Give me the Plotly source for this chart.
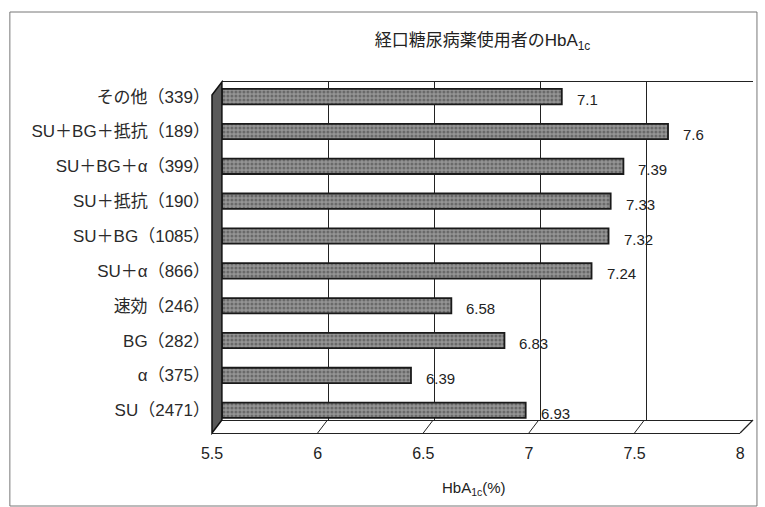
import plotly.graph_objects as go

categories = ["SU（2471）", "α（375）", "BG（282）", "速効（246）", "SU＋α（866）",
              "SU＋BG（1085）", "SU＋抵抗（190）", "SU＋BG＋α（399）", "SU＋BG＋抵抗（189）", "その他（339）"]
values = [6.93, 6.39, 6.83, 6.58, 7.24, 7.32, 7.33, 7.39, 7.6, 7.1]
value_labels = ["6.93", "6.39", "6.83", "6.58", "7.24", "7.32", "7.33", "7.39", "7.6", "7.1"]
x_ticks = [5.5, 6, 6.5, 7, 7.5, 8]
x_tick_labels = ["5.5", "6", "6.5", "7", "7.5", "8"]
x_min, x_max = 5.5, 8

W, H = 765, 507
L, R, T, B = 212, 758, 82, 433  # plot-area pixel box (front-left to back-right)
PW, PH = R - L, B - T
DEPTH = 10   # pixel depth of the 3D offset
DEPTH_Y = 13

def px(p):
    return (p - L) / PW

def py(p):
    return (B - p) / PH

FONT = "Liberation Sans, Noto Sans CJK JP, sans-serif"

fig = go.Figure()
fig.add_trace(go.Bar(
    y=categories, x=[v - x_min for v in values], base=x_min, orientation="h",
    xaxis="x", yaxis="y", width=0.44,
    marker=dict(color="#808080", line=dict(color="#1a1a1a", width=1.8),
                pattern=dict(shape=".", fgcolor="#3c3c3c", bgcolor="#959595", size=4, solidity=0.45)),
    hoverinfo="skip", showlegend=False,
))
# invisible trace for the front (floor) axis
fig.add_trace(go.Scatter(x=[x_min, x_max], y=[categories[0], categories[0]], mode="markers",
                         marker=dict(opacity=0), xaxis="x2", yaxis="y", showlegend=False, hoverinfo="skip"))

for c, v, t in zip(categories, values, value_labels):
    fig.add_annotation(x=v, y=c, xref="x", yref="y", text=t, showarrow=False,
                       xanchor="left", xshift=13, yshift=-3,
                       font=dict(family=FONT, size=15, color="#222"))

shapes = []
# left wall
shapes.append(dict(type="path", xref="paper", yref="paper",
                   path=f"M {px(L)},{py(T+DEPTH_Y)} L {px(L+DEPTH)},{py(T)} L {px(L+DEPTH)},{py(B-DEPTH_Y)} L {px(L)},{py(B)} Z",
                   fillcolor="#5a5a5a", line=dict(color="#111", width=1.5), layer="above"))
# floor right side
shapes.append(dict(type="line", xref="paper", yref="paper", x0=px(R - DEPTH - 3), y0=py(B), x1=px(R), y1=py(B - DEPTH_Y),
                   line=dict(color="#222", width=1.2)))
# tick diagonals on the floor
front_w = PW - DEPTH - 3
dv = DEPTH / front_w * (x_max - x_min)
for v in x_ticks[1:-1]:
    shapes.append(dict(type="line", xref="x2", yref="paper", x0=v + dv, y0=py(B - DEPTH_Y), x1=v, y1=py(B),
                       line=dict(color="#222", width=1)))
# outer frame
shapes.append(dict(type="rect", xref="paper", yref="paper", x0=px(8), y0=py(12), x1=px(762), y1=py(506),
                   line=dict(color="#777", width=1)))

fig.update_layout(
    width=W, height=H,
    margin=dict(l=L, r=W - R, t=T, b=H - B),
    paper_bgcolor="white", plot_bgcolor="rgba(0,0,0,0)",
    font=dict(family=FONT, color="#222"),
    shapes=shapes,
    xaxis=dict(domain=[DEPTH / PW, 1], range=[x_min, x_max], anchor="y",
               tickvals=x_ticks, showticklabels=False, ticks="",
               showgrid=True, gridcolor="#222", gridwidth=1.3,
               showline=True, linecolor="#222", linewidth=1.3, mirror=True, zeroline=False),
    xaxis2=dict(domain=[0, (PW - DEPTH - 3) / PW], range=[x_min, x_max], anchor="free", position=0,
                tickvals=x_ticks, ticktext=x_tick_labels, ticks="", showgrid=False,
                showline=True, linecolor="#222", linewidth=1.3, zeroline=False,
                ticklabelstandoff=6,
                tickfont=dict(family=FONT, size=16, color="#222")),
    yaxis=dict(domain=[DEPTH_Y / PH, 1], anchor="free", position=0,
               categoryorder="array", categoryarray=categories,
               range=[-0.28, 9.42],
               showgrid=False, ticks="", showline=False, zeroline=False,
               ticklabelstandoff=2,
               tickfont=dict(family=FONT, size=17, color="#2a2a2a")),
    title=dict(text="経口糖尿病薬使用者のHbA<sub>1c</sub>", x=px(485), xref="paper", xanchor="center",
               y=1 - 40 / H, yref="container", yanchor="middle",
               font=dict(family=FONT, size=17, color="#222")),
)
fig.add_annotation(text="HbA<sub>1c</sub>(%)", xref="paper", yref="paper", x=px(476), y=py(488),
                   xanchor="center", yanchor="middle",
                   showarrow=False, font=dict(family=FONT, size=15, color="#222"))

fig.write_html("out.html", config={"displayModeBar": False},
               post_script="document.body.style.margin='0';")
